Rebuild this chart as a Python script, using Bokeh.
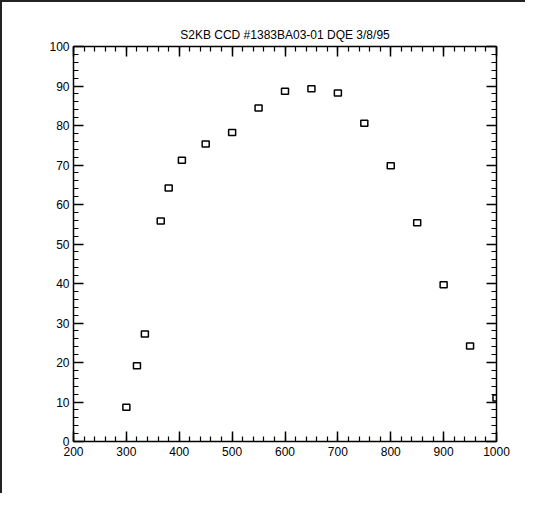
from bokeh.plotting import figure
from bokeh.models import LinearAxis, SingleIntervalTicker, Range1d, CustomJSTickFormatter, ColumnDataSource
from bokeh.embed import file_html
from bokeh.resources import INLINE

wavelength = [300, 320, 335, 365, 380, 405, 450, 500, 550, 600, 650, 700, 750, 800, 850, 900, 950, 1000]
dqe = [8.7, 19.2, 27.2, 55.8, 64.2, 71.2, 75.3, 78.2, 84.4, 88.7, 89.3, 88.2, 80.6, 69.8, 55.4, 39.7, 24.2, 11.0]
title_text = "S2KB CCD #1383BA03-01 DQE 3/8/95"

FONT = "Liberation Sans"

p = figure(width=525, height=493, output_backend="svg", toolbar_location=None,
           x_range=Range1d(200, 1000), y_range=Range1d(0, 100),
           x_axis_location=None, y_axis_location=None,
           min_border_left=71, min_border_right=31, min_border_top=44, min_border_bottom=54,
           title=title_text)
p.title.align = "center"
p.title.text_font = FONT
p.title.text_font_size = "12px"
p.title.text_font_style = "normal"
p.title.text_color = "black"
p.grid.visible = False
p.outline_line_color = None
p.background_fill_color = "white"
p.border_fill_color = "white"
p.styles = {"border-left": "2px solid #222", "border-top": "2px solid #222"}

def style_axis(ax, labels=True, standoff=3):
    ax.axis_line_color = "black"
    ax.axis_line_width = 1.5
    ax.major_tick_line_color = "black"
    ax.major_tick_line_width = 1.5
    ax.minor_tick_line_color = "black"
    ax.minor_tick_line_width = 1.2
    ax.major_tick_in = 10
    ax.major_tick_out = 0
    ax.minor_tick_in = 5
    ax.minor_tick_out = 0
    ax.major_label_text_font = FONT
    ax.major_label_text_font_size = "12px"
    ax.major_label_text_color = "black"
    ax.major_label_standoff = standoff
    if not labels:
        ax.formatter = CustomJSTickFormatter(code="return ''")

xb = LinearAxis(ticker=SingleIntervalTicker(interval=100, num_minor_ticks=5))
xt = LinearAxis(ticker=SingleIntervalTicker(interval=100, num_minor_ticks=5))
yl = LinearAxis(ticker=SingleIntervalTicker(interval=10, num_minor_ticks=5))
yr = LinearAxis(ticker=SingleIntervalTicker(interval=10, num_minor_ticks=5))
style_axis(xb, standoff=5)
style_axis(yl, standoff=4)
style_axis(xt, labels=False)
style_axis(yr, labels=False)
p.add_layout(xb, "below")
p.add_layout(xt, "above")
p.add_layout(yl, "left")
p.add_layout(yr, "right")

src = ColumnDataSource(dict(x=wavelength, y=dqe))
p.rect(x="x", y="y", width=7, height=6, width_units="screen", height_units="screen",
       source=src, fill_color=None, line_color="black", line_width=1.5)

open("out.html", "w").write(file_html(p, INLINE))
